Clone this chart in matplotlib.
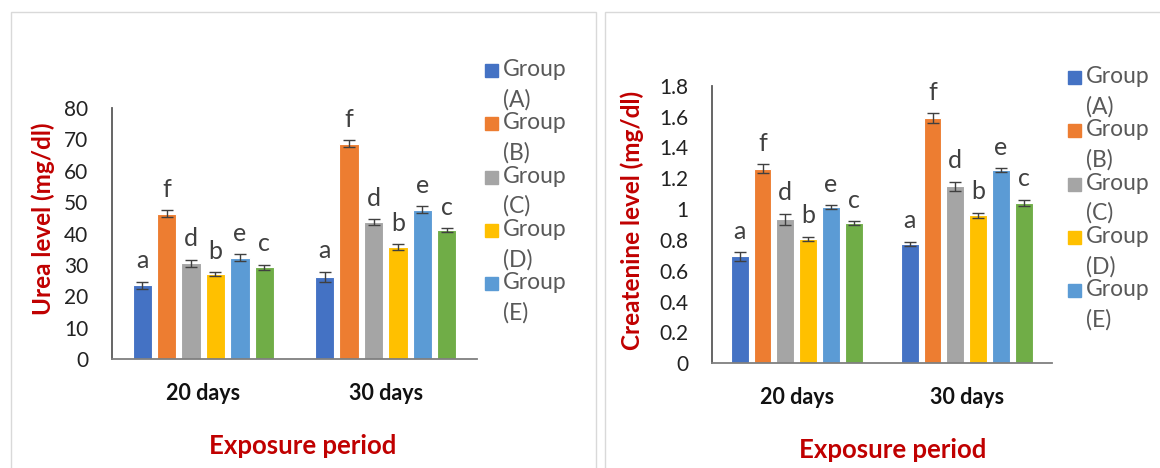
import matplotlib
matplotlib.use('Agg')
import matplotlib.pyplot as plt
from matplotlib.patches import Rectangle
import numpy as np

plt.rcParams['font.family'] = ['Lato', 'DejaVu Sans']

periods = ['20 days', '30 days']
groups = ['Group\n(A)', 'Group\n(B)', 'Group\n(C)', 'Group\n(D)', 'Group\n(E)', 'Group\n(F)']
colors = ['#4472C4', '#ED7D31', '#A5A5A5', '#FFC000', '#5B9BD5', '#70AD47']
letters = ['a', 'f', 'd', 'b', 'e', 'c']

# urea (mg/dl), one list per group: [20 days, 30 days]
urea = [[23.6, 26.3], [46.3, 68.5], [30.6, 43.7], [27.1, 35.8], [32.3, 47.6], [29.3, 41.1]]
urea_err = [[1.1, 1.6], [1.2, 1.1], [1.1, 1.0], [0.7, 0.9], [1.1, 1.1], [0.8, 0.7]]

# createnine (mg/dl)
creat = [[0.694, 0.774], [1.262, 1.590], [0.934, 1.147], [0.808, 0.959], [1.013, 1.253], [0.910, 1.039]]
creat_err = [[0.028, 0.015], [0.030, 0.033], [0.037, 0.031], [0.014, 0.018], [0.011, 0.014], [0.014, 0.022]]

W, H = 1160, 468
fig = plt.figure(figsize=(W / 100, H / 100), dpi=100)


def fx(x):
    return x / W


def fy(y):
    return 1 - y / H


# panel frames
fig.add_artist(Rectangle((fx(11), fy(470)), fx(596) - fx(11), fy(12) - fy(470),
                         transform=fig.transFigure, fill=False, ec='#d9d9d9', lw=1))
fig.add_artist(Rectangle((fx(605), fy(470)), fx(1165) - fx(605), fy(12) - fy(470),
                         transform=fig.transFigure, fill=False, ec='#d9d9d9', lw=1))


def draw_panel(rect, values, errs, ymax, ystep, ylabel, ylab_xy, xlab_xy, leg_x, leg_y0, fmt):
    ax = fig.add_axes(rect)
    x = np.arange(len(periods))
    step = 0.134
    width = 0.105
    for i in range(len(groups)):
        pos = x + (i - 2.5) * step
        ax.bar(pos, values[i], width, color=colors[i], edgecolor='white', linewidth=0.8, zorder=2)
        ax.errorbar(pos, values[i], yerr=errs[i], fmt='none', ecolor='#404040',
                    elinewidth=1, capsize=4, capthick=1, zorder=3)
        for j in range(len(periods)):
            ax.annotate(letters[i], (pos[j], values[i][j] + errs[i][j]), xytext=(0, 9.5),
                        textcoords='offset points', ha='center', va='baseline',
                        fontsize=18, color='#404040')
    ax.set_xlim(-0.5, 1.5)
    ax.set_ylim(0, ymax)
    ax.set_yticks(np.arange(0, ymax + ystep / 2, ystep))
    ax.set_yticklabels([fmt(v) for v in np.arange(0, ymax + ystep / 2, ystep)])
    ax.set_xticks(x)
    ax.set_xticklabels(periods, fontweight='bold')
    ax.tick_params(axis='y', length=0, pad=17, labelsize=15, labelcolor='#222222')
    ax.tick_params(axis='x', length=0, pad=17, labelsize=15.5, labelcolor='#111111')
    for s in ['top', 'right']:
        ax.spines[s].set_visible(False)
    ax.spines['left'].set_color('#595959')
    ax.spines['bottom'].set_color('#7f7f7f')
    ax.spines['left'].set_linewidth(1.3)
    ax.spines['bottom'].set_linewidth(1.3)
    fig.text(fx(ylab_xy[0]), fy(ylab_xy[1]), ylabel, rotation=90, ha='center', va='center',
             fontsize=17.5, fontweight='bold', color='#C00000')
    fig.text(fx(xlab_xy[0]), fy(xlab_xy[1]), 'Exposure period', ha='center', va='center',
             fontsize=18.5, fontweight='bold', color='#C00000')
    # legend: only groups A-E are listed in the original
    for i in range(5):
        yy = leg_y0 + i * 53.3
        fig.add_artist(Rectangle((fx(leg_x), fy(yy + 18)), 13 / W, 13 / H,
                                 transform=fig.transFigure, color=colors[i]))
        fig.text(fx(leg_x + 18), fy(yy), groups[i], ha='left', va='top',
                 fontsize=16.5, color='#595959', linespacing=1.5)
    return ax


draw_panel([fx(112), fy(359.3), fx(477) - fx(112), fy(107.7) - fy(359.3)],
           urea, urea_err, 80, 10, 'Urea level (mg/dl)', (43, 219), (303, 446),
           485, 59, lambda v: '%d' % round(v))

draw_panel([fx(711.7), fy(363.3), fx(1051.7) - fx(711.7), fy(85.7) - fy(363.3)],
           creat, creat_err, 1.8, 0.2, 'Createnine level (mg/dl)', (632, 220), (893, 450),
           1068, 66, lambda v: '%g' % round(v, 1))

fig.savefig('out.png', dpi=100)
